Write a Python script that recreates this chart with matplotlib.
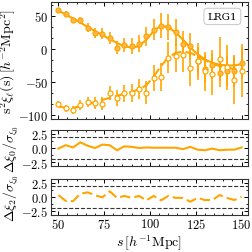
import matplotlib
matplotlib.use('Agg')
import matplotlib.pyplot as plt
from matplotlib.ticker import FuncFormatter, MultipleLocator, AutoMinorLocator

plt.rcParams['mathtext.fontset'] = 'cm'
plt.rcParams['font.family'] = 'serif'
plt.rcParams['font.serif'] = ['DejaVu Serif']

# separations (h^-1 Mpc)
s = [50, 54, 58, 62, 66, 70, 74, 78, 82, 86, 90, 94, 98, 102, 106, 110,
     114, 118, 122, 126, 130, 134, 138, 142, 146, 150]

# measured monopole / quadrupole (s^2 xi)
xi0 = [59, 53, 44, 43, 32, 24, 23, 16, 2, 6, 5, 8, 19, 29, 35, 33,
       25, 7, 4, -18, -30, -24, -36, -33, -33, -21]
xi0_err = [3, 4, 5, 6, 7, 7, 8, 9, 10, 11, 12, 13, 14, 16, 19, 20,
           20, 20, 20, 21, 21, 22, 22, 23, 24, 24]
xi2 = [-83, -90, -92, -85, -80, -82, -83, -67, -74, -67, -67, -60, -66, -44, -42, -13,
       -10, -9, -29, -19, -34, -38, -15, -28, -47, -33]
xi2_err = [4, 5, 6, 7, 8, 9, 10, 11, 12, 13, 14, 15, 17, 19, 21, 23,
           25, 26, 27, 28, 30, 31, 33, 34, 37, 40]

# best-fit model
model0 = [58, 52, 46, 40, 33, 27, 21, 15, 9, 4, 2, 4, 14, 27, 35, 33,
          25, 14, 2, -8, -16, -21, -24, -25, -25, -23]
model2 = [-87, -89, -89, -87, -84, -80, -77, -74, -71, -68, -65, -61, -55, -42, -26, -13,
          -6, -4, -6, -11, -17, -22, -26, -29, -30, -30]

# normalised residuals
res0 = [-0.1, 0.5, 0.1, 1.0, 0.4, 0.0, 0.6, 0.5, -0.4, 0.3, 0.2, 0.0, 0.1, 0.05, 0.05, 0.05,
        0.05, -0.2, 0.2, -0.3, -0.4, -0.1, -0.4, -0.3, -0.3, 0.1]
res2 = [0.3, -0.75, -0.8, 0.55, 0.8, 0.27, -0.1, 1.0, -0.2, 0.15, -0.2, 0.15, -0.65, 0.15, -0.65, 0.15,
        -0.2, -0.2, -0.9, -0.2, -0.6, -0.6, 0.3, -0.2, -0.6, 0.0]

col = '#ffa500'
fig = plt.figure(figsize=(2.53, 2.53), dpi=100)
left, width = 0.2016, 0.7787
ax = fig.add_axes([left, 0.5257, width, 0.4625])
r1 = fig.add_axes([left, 0.3399, width, 0.1423])
r2 = fig.add_axes([left, 0.1482, width, 0.1403])

ax.plot(s, model0, color=col, lw=1.5, zorder=2)
ax.plot(s, model2, color=col, lw=1.5, ls=(0, (5, 2)), zorder=2)
ax.errorbar(s, xi0, yerr=xi0_err, fmt='o', color=col, mfc='#ffb84d', mec=col,
            ms=3.6, mew=0.9, elinewidth=1.2, capsize=0, zorder=3)
ax.errorbar(s, xi2, yerr=xi2_err, fmt='o', color=col, mfc='white', mec=col,
            ms=3.6, mew=0.9, elinewidth=1.2, capsize=0, zorder=3)
ax.set_ylim(-106, 71)
ax.set_ylabel(r'$\mathrm{s}^2\xi_\ell(\mathrm{s})\,[h^{-2}\mathrm{Mpc}^2]$', fontsize=10, labelpad=0)
ax.text(0.945, 0.915, 'LRG1', transform=ax.transAxes, ha='right', va='top', fontsize=7.5,
        bbox=dict(boxstyle='round,pad=0.35', fc='white', ec='#cccccc', lw=0.8))
ax.yaxis.set_major_locator(MultipleLocator(50))
ax.yaxis.set_minor_locator(AutoMinorLocator(3))
ax.yaxis.set_major_formatter(FuncFormatter(lambda v, p: f'${v:g}$'))

r1.plot(s, res0, color=col, lw=1.5)
r2.plot(s, res2, color=col, lw=1.5, ls=(0, (5, 2)))
for r, lab in [(r1, r'$\Delta\xi_0/\sigma_{\xi_0}$'), (r2, r'$\Delta\xi_2/\sigma_{\xi_0}$')]:
    r.axhline(2, color='#333333', lw=0.8, ls='--')
    r.axhline(-2, color='#333333', lw=0.8, ls='--')
    r.set_ylim(-3.2, 3.2)
    r.yaxis.set_major_locator(MultipleLocator(2.5))
    r.yaxis.set_minor_locator(AutoMinorLocator(2))
    r.yaxis.set_major_formatter(FuncFormatter(lambda v, p: f'${v:.1f}$'))
    r.set_ylabel(lab, fontsize=10, labelpad=0)

for a in (ax, r1, r2):
    a.set_xlim(46, 153.5)
    a.xaxis.set_major_locator(MultipleLocator(25))
    a.xaxis.set_minor_locator(AutoMinorLocator(5))
    a.xaxis.set_major_formatter(FuncFormatter(lambda v, p: f'${v:g}$'))
    a.tick_params(which='both', direction='in', top=True, right=True, labelsize=9, pad=2)
    a.tick_params(which='major', length=3, width=0.7)
    a.tick_params(which='minor', length=1.6, width=0.6)
    for sp in a.spines.values():
        sp.set_color('#333333')
        sp.set_linewidth(0.8)
ax.tick_params(labelbottom=False)
r1.tick_params(labelbottom=False)
r2.set_xlabel(r'$s\,[h^{-1}\mathrm{Mpc}]$', fontsize=10, labelpad=1)

fig.savefig('out.png', dpi=100)
